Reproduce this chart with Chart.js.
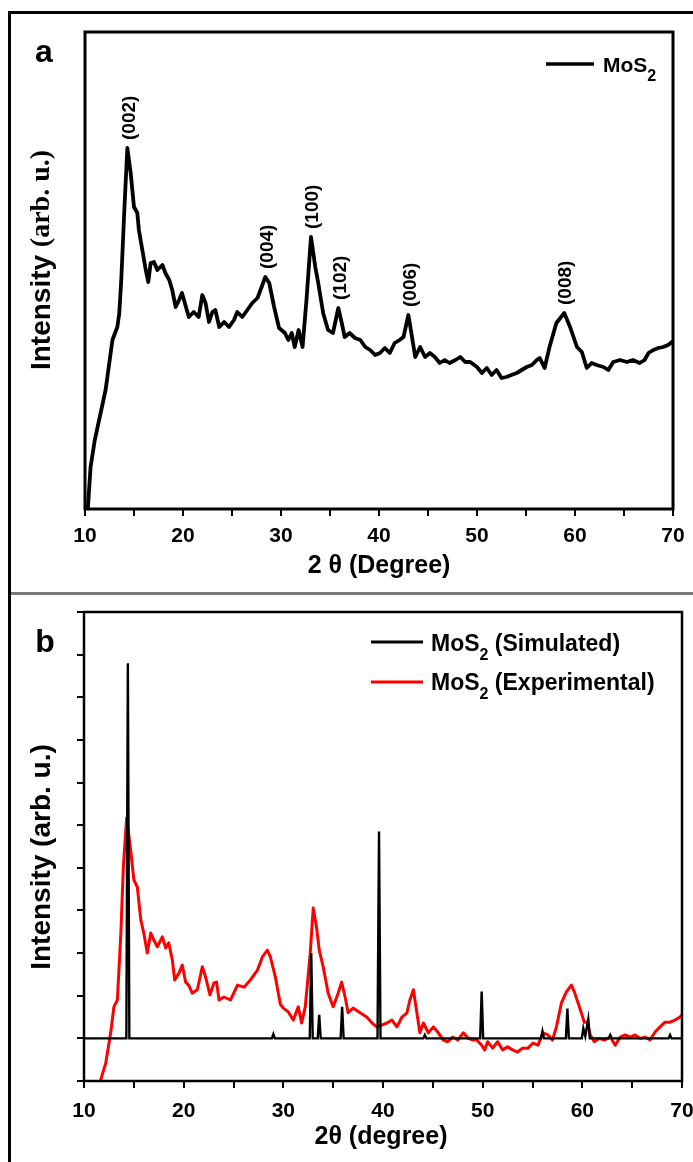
<!DOCTYPE html>
<html>
<head>
<meta charset="utf-8">
<script src="https://cdn.jsdelivr.net/npm/chart.js@4.4.1/dist/chart.umd.min.js"></script>
<style>
  body { margin: 0; background: #fff; width: 693px; height: 1162px; overflow: hidden; position: relative; }
  canvas { position: absolute; left: 0; }
  #ca { top: 0; }
  #cb { top: 593px; }
  .rule { position: absolute; }
</style>
</head>
<body>
<canvas id="ca" width="693" height="593"></canvas>
<canvas id="cb" width="693" height="569"></canvas>
<div class="rule" style="left:8px;top:11px;width:685px;height:3px;background:#000"></div>
<div class="rule" style="left:8px;top:11px;width:3px;height:1151px;background:#000"></div>
<div class="rule" style="left:11px;top:592px;width:682px;height:3px;background:#7a7a7a"></div>
<script>
// panel a : measured XRD pattern (arb. units)
var xa = [10.0, 10.3, 10.57, 11.0, 12.1, 12.8, 13.3, 13.5, 13.7, 14.0, 14.32, 14.66, 15.0, 15.34, 15.5, 15.85,
  16.2, 16.46, 16.7, 17.04, 17.38, 17.9, 18.2, 18.6, 18.9, 19.25, 19.6, 19.9, 20.3, 20.6, 21.1, 21.6,
  21.97, 22.3, 22.65, 23.0, 23.3, 23.7, 24.2, 24.7, 25.2, 25.54, 26.05, 26.56, 27.07, 27.6, 28.1, 28.4,
  28.8, 29.3, 29.8, 30.4, 30.75, 31.1, 31.4, 31.8, 32.2, 32.6, 33.06, 33.5, 33.8, 34.3, 34.8, 35.3,
  35.85, 36.2, 36.5, 37.0, 37.55, 38.1, 38.6, 39.1, 39.6, 40.1, 40.6, 41.1, 41.6, 42.1, 42.5, 43.0,
  43.3, 43.7, 44.2, 44.7, 45.2, 45.7, 46.2, 46.7, 47.2, 47.8, 48.3, 48.8, 49.3, 50.0, 50.5, 51.0,
  51.5, 52.0, 52.5, 53.0, 53.5, 54.05, 54.56, 55.07, 55.6, 56.1, 56.4, 56.9, 57.4, 58.1, 58.9, 59.5,
  60.2, 60.7, 61.2, 61.7, 62.2, 62.9, 63.4, 63.9, 64.6, 65.3, 65.9, 66.6, 67.1, 67.5, 68.0, 68.5,
  69.0, 69.5, 69.9, 70.0];
var ya = [0, 2, 42, 69, 119, 169, 182, 196, 229, 296, 361, 336, 302, 296, 279, 259,
  239, 227, 246, 247, 239, 244, 236, 229, 219, 202, 209, 216, 202, 192, 197, 192,
  214, 206, 187, 197, 199, 182, 187, 182, 189, 197, 192, 199, 206, 211, 224, 232,
  226, 202, 181, 176, 169, 176, 162, 179, 162, 209, 272, 242, 226, 196, 179, 176,
  201, 186, 172, 176, 171, 169, 162, 159, 154, 156, 161, 156, 166, 169, 172, 194,
  176, 152, 162, 152, 156, 152, 146, 149, 146, 149, 152, 147, 147, 142, 136, 141,
  134, 139, 131, 132, 134, 136, 139, 142, 144, 149, 151, 141, 162, 186, 196, 182,
  162, 157, 141, 146, 144, 142, 139, 147, 149, 147, 149, 146, 149, 156, 159, 161,
  162, 164, 167, 168];

// peak indexing of panel a
var hklLabels = ["(002)", "(004)", "(100)", "(102)", "(006)", "(008)"];
var hklPos = [14.32, 28.4, 33.06, 35.85, 43.0, 58.9];
var hklPeak = [361, 232, 272, 201, 194, 196];

// panel b : simulated pattern
var simX = [10, 14.25, 14.4, 14.55, 28.85, 29.0, 29.15, 32.65, 32.8, 32.95, 33.45, 33.6, 33.75,
  35.75, 35.9, 36.05, 39.45, 39.6, 39.75, 44.05, 44.2, 44.35, 49.75, 49.9, 50.05, 55.85, 56.0, 56.15,
  58.35, 58.5, 58.65, 59.95, 60.1, 60.3, 60.6, 60.75, 62.65, 62.8, 62.95, 68.65, 68.8, 68.95, 70];
var simY = [1, 1, 9.8, 1, 1, 1.1, 1, 1, 3.0, 1, 1, 1.55, 1,
  1, 1.74, 1, 1, 5.85, 1, 1, 1.08, 1, 1, 2.1, 1, 1, 1.17, 1,
  1, 1.7, 1, 1, 1.24, 1.05, 1.45, 1, 1, 1.08, 1, 1, 1.08, 1, 1];

// panel b : experimental pattern
var expX = [11.67, 12.18, 12.68, 13.0, 13.35, 13.7, 13.95, 14.28, 14.68, 15.0, 15.35, 15.7, 16.0, 16.35,
  16.7, 17.0, 17.36, 17.86, 18.2, 18.5, 18.86, 19.1, 19.53, 19.86, 20.2, 20.5, 20.86, 21.37, 21.87,
  22.2, 22.64, 23.04, 23.3, 23.55, 24.05, 24.7, 25.4, 26.05, 26.7, 27.4, 27.9, 28.4, 28.7, 29.2,
  29.7, 30.0, 30.5, 31.0, 31.5, 31.84, 32.2, 32.7, 33.0, 33.37, 33.6, 34.0, 34.5, 35.0, 35.5,
  35.85, 36.2, 36.5, 37.0, 37.7, 38.37, 38.9, 39.37, 39.87, 40.4, 40.9, 41.4, 41.9, 42.4, 42.7,
  43.05, 43.4, 43.7, 44.05, 44.55, 45.05, 45.55, 46.05, 46.5, 47.0, 47.5, 48.05, 48.55, 49.05,
  49.4, 49.9, 50.2, 50.5, 51.0, 51.5, 52.0, 52.5, 53.0, 53.5, 54.0, 54.55, 55.05, 55.55, 56.05,
  56.55, 57.0, 57.4, 57.9, 58.4, 58.9, 59.2, 59.7, 60.2, 60.5, 60.8, 61.2, 61.7, 62.2, 62.8,
  63.3, 63.8, 64.3, 64.8, 65.3, 65.8, 66.3, 66.8, 67.3, 67.8, 68.3, 68.8, 69.3, 69.8, 70.0];
var expY = [0.02, 0.42, 1.13, 1.74, 1.9, 3.47, 5.03, 6.17, 5.42, 4.72, 4.55, 3.78, 3.47, 3.0,
  3.47, 3.31, 3.15, 3.38, 3.12, 3.24, 2.84, 2.37, 2.53, 2.72, 2.32, 2.25, 2.06, 2.14, 2.68,
  2.44, 2.02, 2.3, 2.32, 1.9, 1.97, 1.9, 2.25, 2.2, 2.37, 2.6, 2.91, 3.07, 2.91, 2.44,
  1.8, 1.71, 1.62, 1.43, 1.74, 1.36, 1.74, 3.0, 4.06, 3.54, 3.07, 2.68, 2.06, 1.74, 2.06,
  2.32, 1.97, 1.6, 1.71, 1.6, 1.5, 1.36, 1.27, 1.31, 1.36, 1.43, 1.27, 1.5, 1.6, 1.9,
  2.14, 1.6, 1.13, 1.36, 1.13, 1.27, 1.13, 0.96, 0.92, 1.03, 0.96, 1.13, 1.0, 0.96,
  0.96, 0.84, 0.73, 0.92, 0.77, 0.92, 0.73, 0.8, 0.73, 0.68, 0.77, 0.77, 0.89, 0.84, 1.13,
  1.08, 0.96, 1.27, 1.83, 2.09, 2.25, 2.09, 1.74, 1.38, 1.38, 1.08, 0.92, 1.0, 0.96, 1.03,
  0.84, 1.03, 1.08, 1.03, 1.08, 1.0, 1.03, 0.96, 1.15, 1.27, 1.38, 1.38, 1.43, 1.5, 1.55];

var sans = '"Liberation Sans", Arial, sans-serif';
var serif = '"Liberation Serif", "Times New Roman", serif';

function pts(xs, ys) {
  return xs.map(function (x, i) { return { x: x, y: ys[i] }; });
}

// draw a run of text pieces [text, font, dy] starting at x
function drawParts(ctx, parts, x, y) {
  parts.forEach(function (p) {
    ctx.font = p[1];
    ctx.fillText(p[0], x, y + (p[2] || 0));
    x += ctx.measureText(p[0]).width;
  });
}
function partsWidth(ctx, parts) {
  var w = 0;
  parts.forEach(function (p) { ctx.font = p[1]; w += ctx.measureText(p[0]).width; });
  return w;
}
function drawVertical(ctx, parts, cx, cy) {
  ctx.save();
  ctx.translate(cx, cy);
  ctx.rotate(-Math.PI / 2);
  ctx.textBaseline = "middle";
  ctx.textAlign = "left";
  drawParts(ctx, parts, -partsWidth(ctx, parts) / 2, 0);
  ctx.restore();
}
function drawCentered(ctx, parts, cx, cy) {
  ctx.save();
  ctx.textBaseline = "middle";
  ctx.textAlign = "left";
  drawParts(ctx, parts, cx - partsWidth(ctx, parts) / 2, cy);
  ctx.restore();
}

function xScale(tickPad, axisH) {
  return {
    type: "linear", min: 10, max: 70,
    border: { display: false },
    grid: { drawOnChartArea: false, drawTicks: true, tickLength: 7, color: "#000", lineWidth: 2 },
    ticks: {
      stepSize: 5, autoSkip: false, maxRotation: 0, padding: tickPad, color: "#000",
      font: { family: sans, size: 21, weight: "bold" },
      callback: function (v) { return v % 10 === 0 ? v : ""; }
    },
    afterFit: function (s) { s.height = axisH; s.paddingLeft = 0; s.paddingRight = 0; }
  };
}

var panelA = {
  id: "panelA",
  afterDraw: function (chart) {
    var ctx = chart.ctx, a = chart.chartArea, sx = chart.scales.x, sy = chart.scales.y;
    ctx.save();
    ctx.strokeStyle = "#000";
    ctx.lineWidth = 3;
    ctx.strokeRect(a.left, a.top, a.right - a.left, a.bottom - a.top);
    ctx.fillStyle = "#000";

    // peak labels
    ctx.font = "bold 19px " + sans;
    hklLabels.forEach(function (t, i) {
      ctx.save();
      ctx.translate(sx.getPixelForValue(hklPos[i]) + 2, sy.getPixelForValue(hklPeak[i]) - 8);
      ctx.rotate(-Math.PI / 2);
      ctx.textAlign = "left";
      ctx.textBaseline = "middle";
      ctx.fillText(t, 0, 0);
      ctx.restore();
    });

    // legend
    ctx.lineWidth = 3.5;
    ctx.beginPath(); ctx.moveTo(546, 64); ctx.lineTo(594, 64); ctx.stroke();
    ctx.textAlign = "left"; ctx.textBaseline = "alphabetic";
    drawParts(ctx, [["MoS", "bold 21px " + sans], ["2", "bold 16px " + sans, 9]], 603, 72);

    // panel letter and titles
    ctx.font = "bold 32px " + sans;
    ctx.textAlign = "center";
    ctx.fillText("a", 44, 62);
    drawVertical(ctx, [["Intensity ", "bold 28px " + sans], ["(arb. u.)", "bold 28px " + serif]], 42, 260);
    drawCentered(ctx, [["2 \u03b8 (Degree)", "bold 25px " + sans]], 379, 566);
    ctx.restore();
  }
};

var panelB = {
  id: "panelB",
  afterDraw: function (chart) {
    var ctx = chart.ctx, a = chart.chartArea;
    ctx.save();
    ctx.strokeStyle = "#000";
    ctx.lineWidth = 2.5;
    ctx.strokeRect(a.left, a.top, a.right - a.left, a.bottom - a.top);
    ctx.fillStyle = "#000";

    // legend
    ctx.lineWidth = 3;
    ctx.beginPath(); ctx.moveTo(371, 49); ctx.lineTo(423, 49); ctx.stroke();
    ctx.strokeStyle = "#ff0000";
    ctx.beginPath(); ctx.moveTo(371, 89); ctx.lineTo(423, 89); ctx.stroke();
    ctx.textAlign = "left"; ctx.textBaseline = "alphabetic";
    drawParts(ctx, [["MoS", "bold 23px " + sans], ["2", "bold 16px " + sans, 9], [" (Simulated)", "bold 23px " + sans]], 431, 58);
    drawParts(ctx, [["MoS", "bold 23px " + sans], ["2", "bold 16px " + sans, 9], [" (Experimental)", "bold 23px " + sans]], 431, 97);

    ctx.font = "bold 32px " + sans;
    ctx.textAlign = "center";
    ctx.fillText("b", 45, 59);
    drawVertical(ctx, [["Intensity (arb. u.)", "bold 28px " + sans]], 42, 264);
    drawCentered(ctx, [["2\u03b8 (degree)", "bold 25px " + sans]], 381, 544);
    ctx.restore();
  }
};

new Chart(document.getElementById("ca"), {
  type: "line",
  data: {
    datasets: [{
      label: "MoS2",
      data: pts(xa, ya),
      borderColor: "#000",
      borderWidth: 3.8,
      pointRadius: 0,
      tension: 0,
      borderJoinStyle: "round"
    }]
  },
  options: {
    responsive: false,
    devicePixelRatio: 1,
    animation: false,
    layout: { padding: { top: 32, right: 20, left: 0, bottom: 0 } },
    plugins: { legend: { display: false }, tooltip: { enabled: false } },
    scales: {
      x: xScale(8, 84),
      y: {
        min: 0, max: 477,
        border: { display: false },
        grid: { display: false },
        ticks: { display: false },
        afterFit: function (s) { s.width = 85; }
      }
    }
  },
  plugins: [panelA]
});

new Chart(document.getElementById("cb"), {
  type: "line",
  data: {
    datasets: [{
      label: "MoS2 (Simulated)",
      data: pts(simX, simY),
      borderColor: "#000",
      borderWidth: 2.4,
      pointRadius: 0,
      tension: 0
    }, {
      label: "MoS2 (Experimental)",
      data: pts(expX, expY),
      borderColor: "#ff0000",
      borderWidth: 3,
      pointRadius: 0,
      tension: 0,
      borderJoinStyle: "round"
    }]
  },
  options: {
    responsive: false,
    devicePixelRatio: 1,
    animation: false,
    layout: { padding: { top: 19, right: 11, left: 0, bottom: 0 } },
    plugins: { legend: { display: false }, tooltip: { enabled: false } },
    scales: {
      x: xScale(11, 81),
      y: {
        min: 0, max: 11,
        border: { display: false },
        grid: { drawOnChartArea: false, drawTicks: true, tickLength: 7, color: "#000", lineWidth: 2 },
        ticks: { stepSize: 1, padding: 0, callback: function () { return ""; } },
        afterFit: function (s) { s.width = 84; }
      }
    }
  },
  plugins: [panelB]
});
</script>
</body>
</html>
